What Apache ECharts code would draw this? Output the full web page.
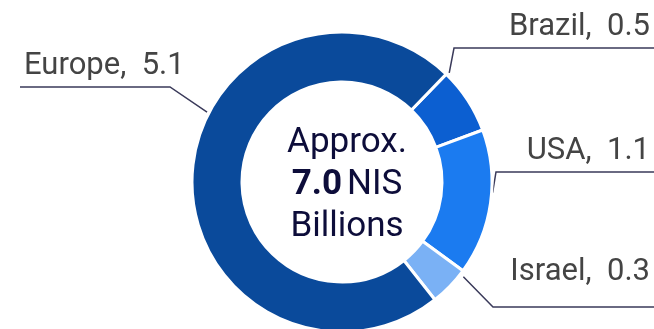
<!DOCTYPE html>
<html>
<head>
<meta charset="utf-8">
<script src="https://cdn.jsdelivr.net/npm/echarts/dist/echarts.min.js"></script>
<style>
  html, body { margin: 0; padding: 0; background: #fff; }
  #chart { width: 654px; height: 329px; }
</style>
</head>
<body>
<div id="chart"></div>
<script>
// ---- data ----
var regions = ['Brazil', 'USA', 'Israel', 'Europe'];
var revenue = [0.5, 1.1, 0.3, 5.1];   // NIS billions
var sliceColors = ['#0c5fd1', '#1b7bf0', '#7ab1f5', '#0a4a9b'];
var centerLines = ['Approx.', 'NIS', 'Billions'];

// ---- layout (styling only) ----
var CX = 342, CY = 182, R_IN = 100, R_OUT = 150;
// guide: angle on ring (deg clockwise from top), radius, elbow, underline y, side
var guides = [
  { ang: 44.5, r: 153, elbow: [454, 48],  lineY: 48,  side: 'right', gap: 10 },
  { ang: 94,   r: 151, elbow: [496, 172], lineY: 172, side: 'right', gap: 10 },
  { ang: 128,  r: 154, elbow: [493, 307], lineY: 307, side: 'right', gap: 24 },
  { ang: 297.4,r: 152, elbow: [170, 87],  lineY: 87,  side: 'left',  gap: 10 }
];

var total = revenue.reduce(function (a, b) { return a + b; }, 0);

var chart = echarts.init(document.getElementById('chart'), null, { renderer: 'canvas' });
var W = 654;

chart.setOption({
  animation: false,
  title: {
    text: '{a|' + centerLines[0] + '}\n{b|' + total.toFixed(1) + '} {a|' + centerLines[1] + '}\n{a|' + centerLines[2] + '}',
    left: CX,
    top: CY - 2,
    textAlign: 'center',
    textVerticalAlign: 'middle',
    textStyle: {
      fontWeight: 'normal',
      rich: {
        a: { fontFamily: 'Roboto', fontSize: 35, fontWeight: 'normal', color: '#0d0d3a', lineHeight: 42 },
        b: { fontFamily: 'Roboto', fontSize: 35, fontWeight: 'bold', color: '#0d0d3a', lineHeight: 42 }
      }
    }
  },
  series: [{
    type: 'pie',
    center: [CX, CY],
    radius: [R_IN, R_OUT],
    startAngle: 90 - 44,
    clockwise: true,
    data: regions.map(function (n, i) {
      return { name: n, value: revenue[i], itemStyle: { color: sliceColors[i] } };
    }),
    itemStyle: { borderColor: '#fff', borderWidth: 3 },
    label: {
      show: true,
      position: 'outside',
      formatter: '{b},  {c}',
      fontFamily: 'Roboto',
      fontSize: 31,
      lineHeight: 31,
      color: '#444',
      overflow: 'none'
    },
    labelLine: {
      show: true,
      length: 10,
      length2: 10,
      lineStyle: { color: '#3a3a5a', width: 1.5 }
    },
    labelLayout: function (p) {
      var g = guides[p.dataIndex];
      var a = g.ang * Math.PI / 180;
      var start = [CX + g.r * Math.sin(a), CY - g.r * Math.cos(a)];
      var endX = g.side === 'right' ? W : 20;
      return {
        x: g.side === 'right' ? 650 : 24,
        y: g.lineY - g.gap + 5,
        align: g.side === 'right' ? 'right' : 'left',
        verticalAlign: 'bottom',
        labelLinePoints: [start, g.elbow, [endX, g.lineY]]
      };
    }
  }]
});
</script>
</body>
</html>
